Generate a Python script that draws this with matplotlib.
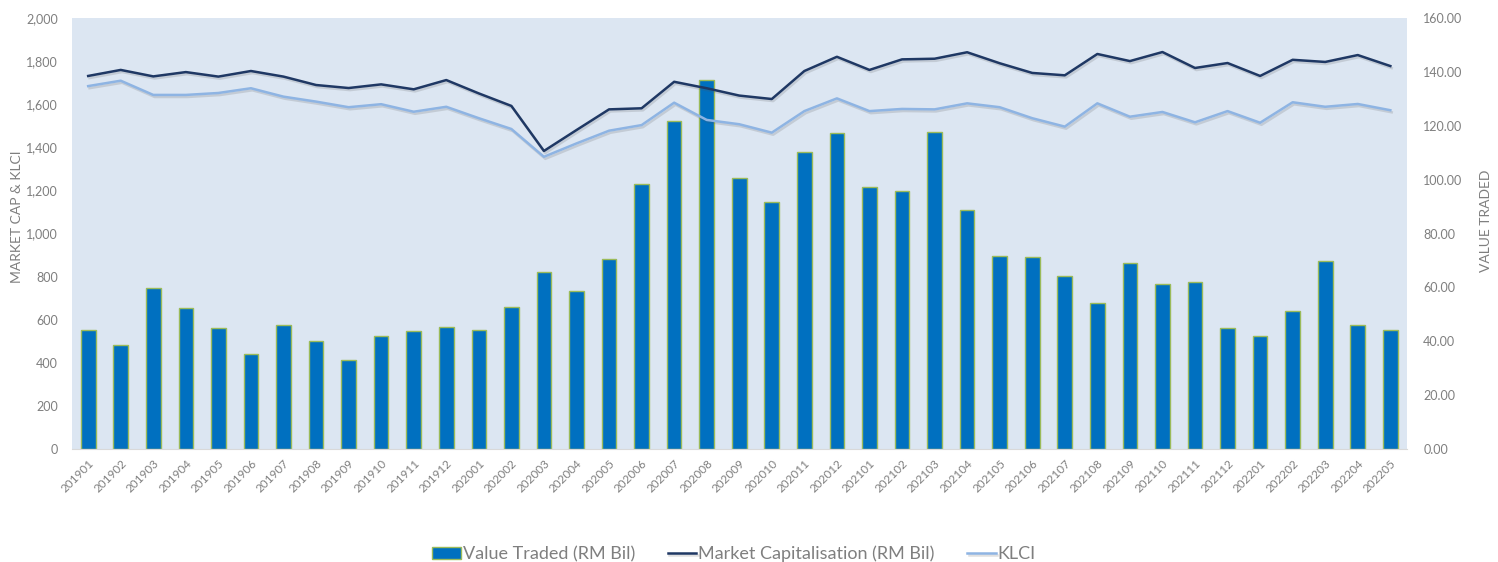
import matplotlib
matplotlib.use("Agg")
import matplotlib.pyplot as plt
import matplotlib.patheffects as pe
import numpy as np
from matplotlib.ticker import FuncFormatter, MultipleLocator

plt.rcParams['font.family'] = ['Lato', 'DejaVu Sans']

months = ['201901', '201902', '201903', '201904', '201905', '201906', '201907', '201908',
          '201909', '201910', '201911', '201912', '202001', '202002', '202003', '202004',
          '202005', '202006', '202007', '202008', '202009', '202010', '202011', '202012',
          '202101', '202102', '202103', '202104', '202105', '202106', '202107', '202108',
          '202109', '202110', '202111', '202112', '202201', '202202', '202203', '202204',
          '202205']

# RM bil, right axis
value_traded = [44.2, 38.6, 59.9, 52.5, 45.0, 35.4, 45.9, 40.2, 33.1, 41.8, 43.7, 45.4,
                44.1, 52.7, 65.7, 58.5, 70.5, 98.3, 121.9, 137.0, 100.7, 91.8, 110.4, 117.2,
                97.3, 95.6, 117.6, 88.6, 71.6, 71.4, 64.2, 54.3, 68.9, 61.1, 62.0, 44.8,
                42.1, 51.3, 69.9, 45.9, 44.3]

# RM bil, left axis
market_cap = [1731, 1759, 1729, 1749, 1728, 1754, 1728, 1689, 1675, 1692, 1669, 1712,
              1650, 1592, 1383, 1480, 1576, 1581, 1704, 1674, 1640, 1624, 1754, 1820,
              1759, 1808, 1811, 1841, 1790, 1745, 1734, 1833, 1800, 1842, 1768, 1791,
              1731, 1806, 1796, 1828, 1777]

klci = [1684, 1709, 1643, 1643, 1652, 1674, 1635, 1612, 1586, 1600, 1565, 1588,
        1535, 1485, 1356, 1418, 1477, 1503, 1607, 1527, 1507, 1468, 1568, 1627,
        1568, 1578, 1576, 1604, 1586, 1535, 1496, 1604, 1542, 1564, 1516, 1568,
        1514, 1609, 1588, 1601, 1572]

grey = '#7f7f7f'
bg = '#dce6f2'

fig = plt.figure(figsize=(14.98, 5.62), dpi=100)
ax = fig.add_axes([0.048, 0.201, 0.891, 0.767])
axb = ax.twinx()

x = np.arange(len(months))

# bars on the twin axis, lines on the main axis drawn above them
ax.set_zorder(axb.get_zorder() + 1)
ax.patch.set_visible(False)
axb.patch.set_visible(True)
axb.patch.set_facecolor(bg)

bars = axb.bar(x, value_traded, width=0.45, color='#0070c0', edgecolor='#9bbb59',
               linewidth=1.0, label='Value Traded (RM Bil)')

shadow = [pe.SimpleLineShadow(offset=(1, -1.5), alpha=0.18, shadow_color='#555555'), pe.Normal()]
l1, = ax.plot(x, market_cap, color='#1f3864', linewidth=1.8, path_effects=shadow,
              label='Market Capitalisation (RM Bil)')
l2, = ax.plot(x, klci, color='#8eb4e3', linewidth=1.8, path_effects=shadow, label='KLCI')

ax.set_xlim(-0.5, len(months) - 0.5)
ax.set_ylim(0, 2000)
axb.set_ylim(0, 160)
ax.yaxis.set_major_locator(MultipleLocator(200))
axb.yaxis.set_major_locator(MultipleLocator(20))
ax.yaxis.set_major_formatter(FuncFormatter(lambda v, p: f'{v:,.0f}'))
axb.yaxis.set_major_formatter(FuncFormatter(lambda v, p: f'{v:.2f}'))

ax.set_xticks(x)
ax.set_xticklabels(months, rotation=45, ha='right', rotation_mode='anchor')

for a in (ax, axb):
    for s in a.spines.values():
        s.set_visible(False)
    a.tick_params(length=0, colors=grey, labelsize=9)
ax.tick_params(axis='x', labelsize=8.5, pad=6)
ax.tick_params(axis='y', pad=10)
axb.tick_params(axis='y', pad=12)
axb.spines['bottom'].set_visible(True)
axb.spines['bottom'].set_color('#d9d9d9')

ax.set_ylabel('MARKET CAP & KLCI', color=grey, fontsize=10)
ax.yaxis.set_label_coords(-0.0365, 0.54)
axb.set_ylabel('VALUE TRADED', color=grey, fontsize=10, rotation=90)
axb.yaxis.set_label_coords(1.055, 0.53)

leg = fig.legend(handles=[bars, l1, l2], loc='center', bbox_to_anchor=(0.49, 0.014),
                 ncol=3, frameon=False, fontsize=13, handlelength=1.6,
                 handletextpad=0.1, columnspacing=1.8)
for t in leg.get_texts():
    t.set_color(grey)

fig.savefig('out.png', dpi=100)
